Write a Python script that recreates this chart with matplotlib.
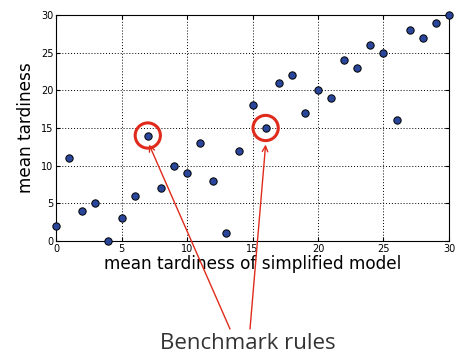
import numpy as np
import matplotlib
matplotlib.use("Agg")
import matplotlib.pyplot as plt

# data
simplified = [0, 1, 2, 3, 4, 5, 6, 7, 8, 9, 10, 11, 12, 13, 14, 15,
              16, 17, 18, 19, 20, 21, 22, 23, 24, 25, 26, 27, 28, 29, 30]
tardiness = [2, 11, 4, 5, 0, 3, 6, 14, 7, 10, 9, 13, 8, 1, 12, 18,
             15, 21, 22, 17, 20, 19, 24, 23, 26, 25, 16, 28, 27, 29, 30]
bench_x = [7, 16]
bench_y = [14, 15]
ticks = [0, 5, 10, 15, 20, 25, 30]

fig = plt.figure(figsize=(4.6, 3.58), dpi=100)
ax = fig.add_axes([0.122, 0.327, 0.854, 0.631])

ax.scatter(simplified, tardiness, s=28, c='#2a469a', edgecolors='black',
           linewidths=0.7, zorder=3, clip_on=False)
ax.scatter(bench_x, bench_y, s=330, facecolors='none', edgecolors='#e02a1c',
           linewidths=2.2, zorder=4)

ax.set_xlim(0, 30)
ax.set_ylim(0, 30)
ax.set_xticks(ticks)
ax.set_yticks(ticks)
ax.tick_params(direction='in', labelsize=7, top=True, right=True, length=3, pad=2)
ax.grid(True, color='black', linestyle=(0, (1, 2)), linewidth=0.7)
ax.set_axisbelow(True)
ax.set_xlabel('mean tardiness of simplified model', fontsize=12.2, labelpad=1)
ax.set_ylabel('mean tardiness', fontsize=12.2, labelpad=4)

# arrows from the label to the circled points
starts = [(230 / 460, 1 - 329 / 358), (250 / 460, 1 - 329 / 358)]
tips = [(7.1, 12.8), (16.0, 12.8)]
for (sx, sy), (tx, ty) in zip(starts, tips):
    ax.annotate('', xy=(tx, ty), xycoords='data',
                xytext=(sx, sy), textcoords='figure fraction',
                arrowprops=dict(arrowstyle='->', color='#e02a1c', lw=1.0,
                                shrinkA=0, shrinkB=0, mutation_scale=10),
                annotation_clip=False)

fig.text(0.539, 0.012, 'Benchmark rules', fontsize=16, family='Open Sans',
         color='#333333', ha='center', va='bottom')

fig.savefig('out.png', dpi=100)
